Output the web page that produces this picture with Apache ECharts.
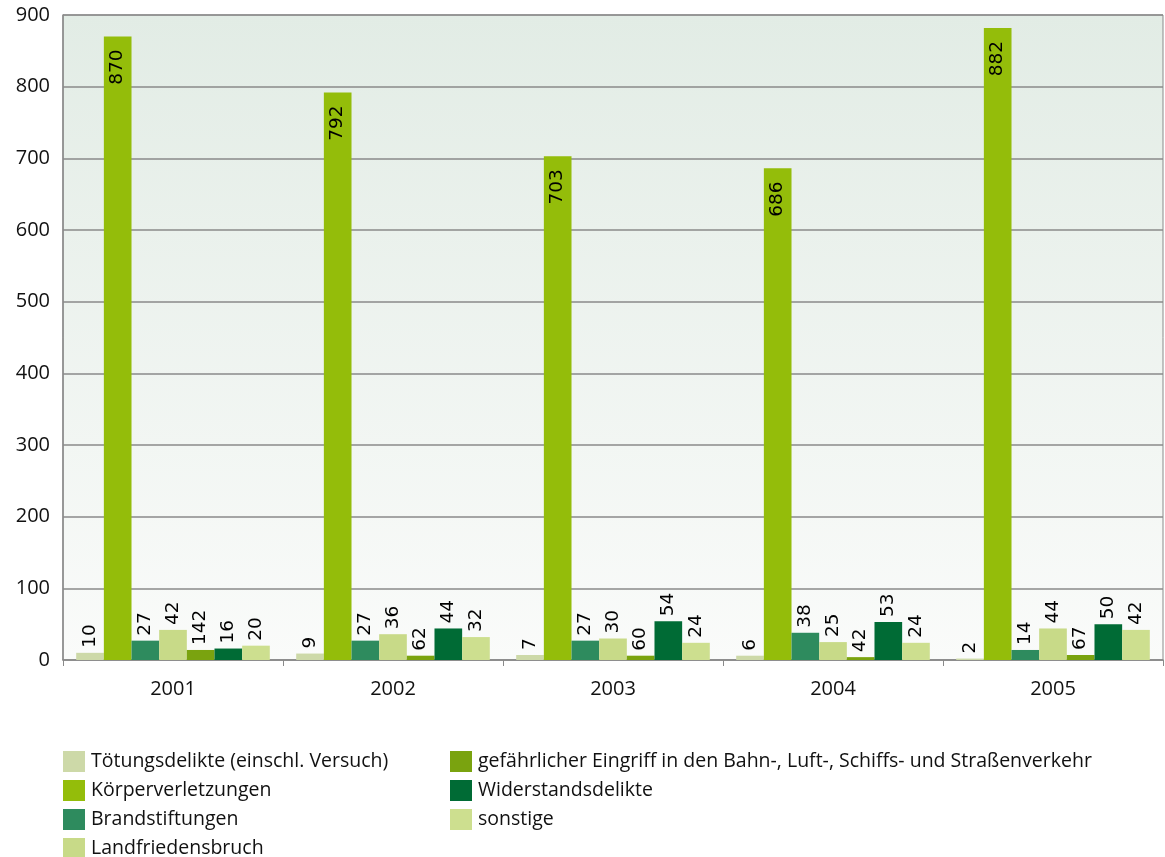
<!DOCTYPE html>
<html><head><meta charset="utf-8">
<script src="https://cdn.jsdelivr.net/npm/echarts@6/dist/echarts.min.js"></script>
<style>html,body{margin:0;padding:0;background:#fff}#c{width:1165px;height:857px}</style>
</head><body><div id="c"></div>
<script>
const categories = ['2001', '2002', '2003', '2004', '2005'];
const seriesNames = [
  'Tötungsdelikte (einschl. Versuch)',
  'Körperverletzungen',
  'Brandstiftungen',
  'Landfriedensbruch',
  'gefährlicher Eingriff in den Bahn-, Luft-, Schiffs- und Straßenverkehr',
  'Widerstandsdelikte',
  'sonstige'
];
const toetung = [10, 9, 7, 6, 2];
const koerper = [870, 792, 703, 686, 882];
const brand = [27, 27, 27, 38, 14];
const landfrieden = [42, 36, 30, 25, 44];
const eingriff = [14, 6, 6, 4, 7];
const widerstand = [16, 44, 54, 53, 50];
const sonstige = [20, 32, 24, 24, 42];
const eingriffLabels = ['142', '62', '60', '42', '67'];
const yTicks = { min: 0, max: 900, interval: 100 };

const colors = ['#cdd9a8', '#94bd0a', '#2e8b5e', '#c8da88', '#7aa30f', '#006b35', '#cddf8f'];
const allValues = [toetung, koerper, brand, landfrieden, eingriff, widerstand, sonstige];
const labelTexts = [null, null, null, null, eingriffLabels, null, null];

const labelFont = 'DejaVu Sans';
const series = allValues.map((vals, i) => {
  const big = i === 1;
  return {
    name: seriesNames[i],
    type: 'bar',
    data: vals,
    barGap: '0%',
    barCategoryGap: '12%',
    itemStyle: { color: colors[i] },
    label: {
      show: true,
      position: big ? 'insideTop' : 'top',
      distance: big ? 13 : 5,
      rotate: 90,
      align: big ? 'right' : 'left',
      verticalAlign: 'middle',
      fontFamily: labelFont,
      fontSize: 18.5,
      color: '#000',
      formatter: p => labelTexts[i] ? labelTexts[i][p.dataIndex] : String(p.value)
    }
  };
});

const legendText = { fontFamily: 'Open Sans', fontSize: 19.5, color: '#111', padding: [0, 0, 0, 1] };
const chart = echarts.init(document.getElementById('c'));
chart.setOption({
  animation: false,
  color: colors,
  grid: {
    left: 63, right: 2, top: 15, bottom: 197,
    show: true,
    borderColor: '#8a8a8a', borderWidth: 1,
    backgroundColor: new echarts.graphic.LinearGradient(0, 0, 0, 1, [
      { offset: 0, color: '#e2ece5' },
      { offset: 1, color: '#fafbfa' }
    ])
  },
  xAxis: {
    type: 'category',
    data: categories,
    axisLine: { lineStyle: { color: '#8a8a8a', width: 1.5 } },
    axisTick: { show: true, length: 6, lineStyle: { color: '#8a8a8a' } },
    axisLabel: { fontFamily: 'Open Sans', fontSize: 20, color: '#111', margin: 19 }
  },
  yAxis: {
    type: 'value',
    min: yTicks.min, max: yTicks.max, interval: yTicks.interval,
    axisLine: { show: true, lineStyle: { color: '#8a8a8a', width: 1.5 } },
    axisTick: { show: false },
    splitLine: { lineStyle: { color: '#8a8a8a', width: 1.5 } },
    axisLabel: { fontFamily: 'Open Sans', fontSize: 20, color: '#111', margin: 13 }
  },
  legend: [
    {
      data: seriesNames.slice(0, 4),
      orient: 'vertical', left: 63, top: 751, height: 130, padding: 0,
      itemWidth: 22, itemHeight: 21, itemGap: 8,
      icon: 'rect',
      textStyle: legendText
    },
    {
      data: seriesNames.slice(4),
      orient: 'vertical', left: 450, top: 751, height: 130, padding: 0,
      itemWidth: 22, itemHeight: 21, itemGap: 8,
      icon: 'rect',
      textStyle: legendText
    }
  ],
  series: series
});
</script></body></html>
